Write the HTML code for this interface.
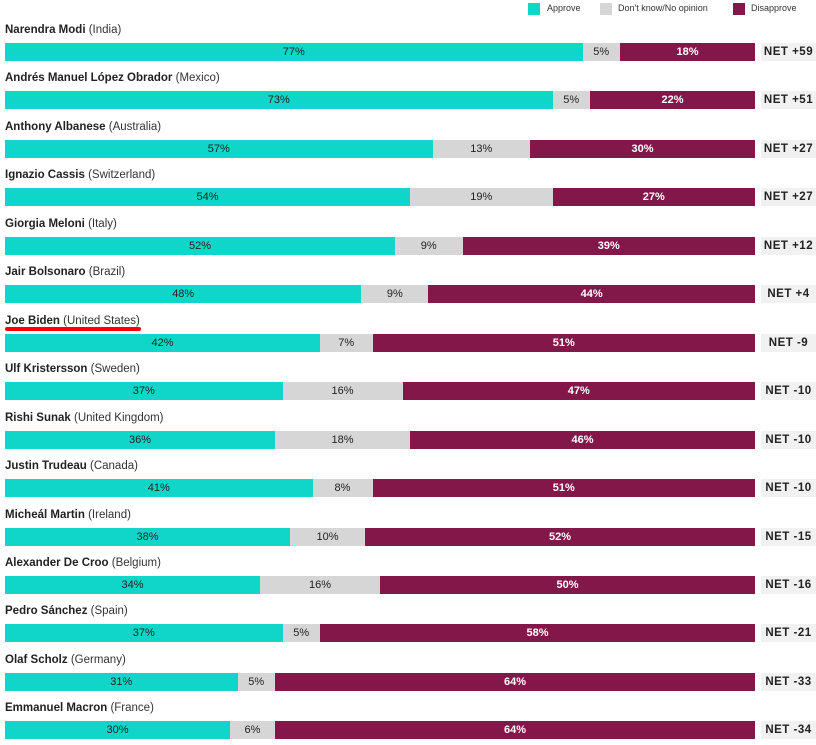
<!DOCTYPE html>
<html><head><meta charset="utf-8"><style>
body{margin:0;width:816px;height:745px;background:#fff;font-family:"Liberation Sans",sans-serif;position:relative;overflow:hidden;color:#222}
.a{position:absolute}
.lbl{font-size:11.5px;white-space:nowrap}
.seg{position:absolute;height:18px;font-size:11px;line-height:19px;text-align:center;overflow:hidden}
.net{position:absolute;left:761px;width:55px;height:18px;background:#f1f1f1;font-size:11.5px;font-weight:bold;line-height:18px;text-align:center;letter-spacing:0.5px;color:#222}
.sw{position:absolute;width:12px;height:12px;top:3px}
.lt{position:absolute;top:3px;font-size:9px;color:#333}
</style></head><body>
<div class="sw" style="left:528px;background:#10d5c9"></div>
<div class="lt" style="left:547px">Approve</div>
<div class="sw" style="left:600px;background:#d6d6d6"></div>
<div class="lt" style="left:618px">Don't know/No opinion</div>
<div class="sw" style="left:733px;background:#83174a"></div>
<div class="lt" style="left:751px">Disapprove</div>
<div class="a" style="left:5px;top:327px;width:136px;height:4px;background:#f00;border-radius:2px"></div>
<div id="chart"></div>
<script>
const leaders=["Narendra Modi","Andrés Manuel López Obrador","Anthony Albanese","Ignazio Cassis","Giorgia Meloni","Jair Bolsonaro","Joe Biden","Ulf Kristersson","Rishi Sunak","Justin Trudeau","Micheál Martin","Alexander De Croo","Pedro Sánchez","Olaf Scholz","Emmanuel Macron"];
const countries=["India","Mexico","Australia","Switzerland","Italy","Brazil","United States","Sweden","United Kingdom","Canada","Ireland","Belgium","Spain","Germany","France"];
const approve=[77,73,57,54,52,48,42,37,36,41,38,34,37,31,30];
const dontKnow=[5,5,13,19,9,9,7,16,18,8,10,16,5,5,6];
const disapprove=[18,22,30,27,39,44,51,47,46,51,52,50,58,64,64];
const nets=["+59","+51","+27","+27","+12","+4","-9","-10","-10","-10","-15","-16","-21","-33","-34"];
const chart=document.getElementById('chart');
const X0=5,W=750;
function yRow(i){return 43+i*48.45;}
function xs(v,tot){return v/tot*W;}
leaders.forEach((n,i)=>{
  const y=yRow(i);
  const lab=document.createElement('div');
  lab.className='a lbl';
  lab.style.left='5px';lab.style.top=(y-19)+'px';
  lab.innerHTML='<b style="font-weight:bold;color:#222">'+n+'</b> <span style="color:#333">('+countries[i]+')</span>';
  
  
  chart.appendChild(lab);
  const tot=approve[i]+dontKnow[i]+disapprove[i];
  const vals=[approve[i],dontKnow[i],disapprove[i]];
  const cols=['#10d5c9','#d6d6d6','#83174a'];
  const names=['bar-approve','bar-dontknow','bar-disapprove'];
  let x=X0;
  vals.forEach((v,k)=>{
    const w=xs(v,tot);
    const s=document.createElement('div');
    s.className='seg';
    s.style.left=x+'px';s.style.top=y+'px';s.style.width=w+'px';
    s.style.background=cols[k];
    s.style.color=k==2?'#fff':'#222';
    if(k==2)s.style.fontWeight='bold';
    s.textContent=v+'%';
    
    
    chart.appendChild(s);
    x+=w;
  });
  const ne=document.createElement('div');
  ne.className='net';ne.style.top=y+'px';
  ne.textContent='NET '+nets[i];
  
  
  chart.appendChild(ne);
});
</script>
</body></html>
